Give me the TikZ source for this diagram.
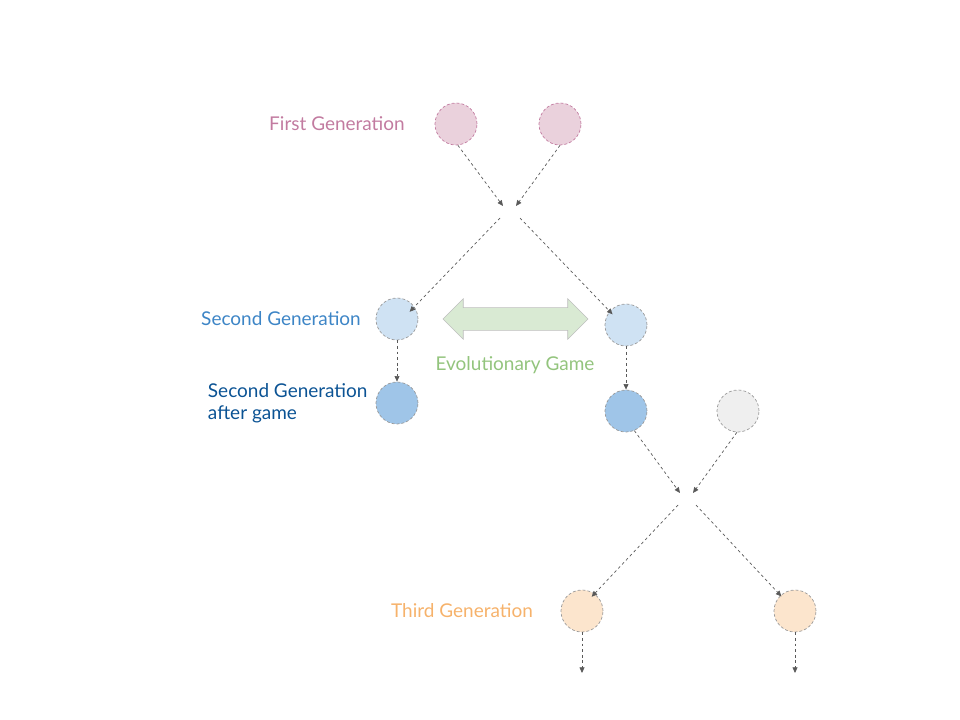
\documentclass[tikz,border=0pt]{standalone}
\usepackage{fontspec}
\setmainfont{Lato}
\usetikzlibrary{arrows.meta,shapes.arrows}
\definecolor{pinkfill}{HTML}{EAD1DC}
\definecolor{pinktext}{HTML}{C27BA0}
\definecolor{bluelight}{HTML}{CFE2F3}
\definecolor{bluemid}{HTML}{9FC5E8}
\definecolor{bluetext}{HTML}{3D85C6}
\definecolor{bluedark}{HTML}{0B5394}
\definecolor{greyfill}{HTML}{EFEFEF}
\definecolor{orangefill}{HTML}{FCE5CD}
\definecolor{orangetext}{HTML}{F6B26B}
\definecolor{greenfill}{HTML}{D9EAD3}
\definecolor{greentext}{HTML}{93C47D}

\begin{document}
\begin{tikzpicture}[x=0.025cm,y=-0.025cm,
	gen/.style={circle,draw=black!40,dash pattern=on 2pt off 1.5pt,line width=0.5pt,minimum size=1.05cm,inner sep=0pt},
	link/.style={draw=black!65,dash pattern=on 2pt off 2pt,line width=0.5pt,-{Triangle[length=4pt,width=3.5pt]}},
	lbl/.style={font=\fontsize{13.5}{15.6}\selectfont}]
	\useasboundingbox (0,0) rectangle (960,720);
	% first generation
	\node[gen,fill=pinkfill,draw=pinktext] (f1) at (456,124) {};
	\node[gen,fill=pinkfill,draw=pinktext] (f2) at (560,124) {};
	\node[lbl,text=pinktext] (fl) at (337,124) {First Generation};
	\coordinate (m1) at (503,206);
	\coordinate (m2) at (516,206);
	\coordinate (c1) at (500,218);
	\coordinate (c2) at (520,218);
	\draw[link] (f1.-85) -- (m1);
	\draw[link] (f2.-90) -- (m2);
	% second generation
	\node[gen,fill=bluelight] (s1) at (397,319) {};
	\node[gen,fill=bluelight] (s2) at (626,325) {};
	\node[lbl,text=bluetext] (sl) at (281,319) {Second Generation};
	\draw[link,shorten >=-5pt] (c1) -- (s1.35);
	\draw[link,shorten >=-3pt] (c2) -- (s2.140);
	\node[double arrow,draw=black!25,fill=greenfill,minimum height=3.625cm,
		inner sep=0pt,double arrow head extend=0.225cm,
		text width=0pt,text height=0.55cm,text depth=0pt] (game) at (515.5,319) {};
	\node[lbl,text=greentext] (gl) at (515,365) {Evolutionary Game};
	% after game
	\node[gen,fill=bluemid] (a1) at (397,403) {};
	\node[gen,fill=bluemid] (a2) at (626,411) {};
	\node[gen,fill=greyfill] (g) at (738,411) {};
	\node[lbl,text=bluedark,align=left,anchor=west] (al) at (203,403) {Second Generation\\after game};
	\draw[link] (s1) -- (a1);
	\draw[link] (s2) -- (a2);
	\coordinate (m3) at (680,493);
	\coordinate (m4) at (693,493);
	\coordinate (c3) at (678,505);
	\coordinate (c4) at (696,505);
	\draw[link] (a2.-67) -- (m3);
	\draw[link] (g.-93) -- (m4);
	% third generation
	\node[gen,fill=orangefill] (t1) at (582,611) {};
	\node[gen,fill=orangefill] (t2) at (795,611) {};
	\node[lbl,text=orangetext] (tl) at (462,611) {Third Generation};
	\draw[link,shorten >=-3pt] (c3) -- (t1.54);
	\draw[link,shorten >=-1pt] (c4) -- (t2.133);
	\coordinate (e1) at (582,673);
	\coordinate (e2) at (795,673);
	\draw[link] (t1) -- (e1);
	\draw[link] (t2) -- (e2);
\end{tikzpicture}
\end{document}
